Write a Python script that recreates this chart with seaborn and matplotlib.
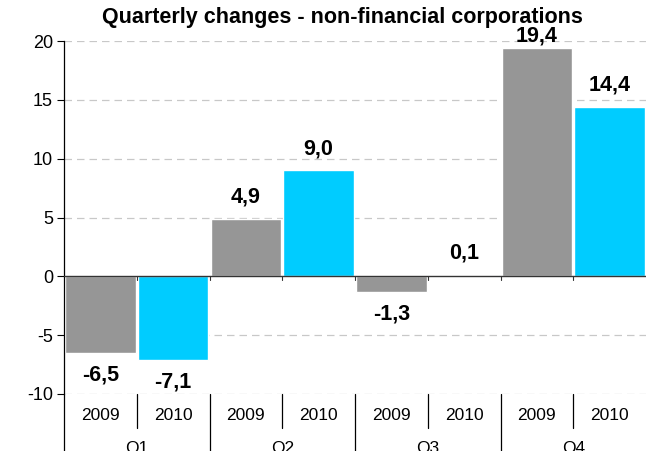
import numpy as np
import pandas as pd
import matplotlib
matplotlib.use("Agg")
import matplotlib.pyplot as plt
import seaborn as sns

quarters = ["Q1", "Q2", "Q3", "Q4"]
years = ["2009", "2010"]
values_2009 = [-6.5, 4.9, -1.3, 19.4]
values_2010 = [-7.1, 9.0, 0.1, 14.4]
y_ticks = [-10, -5, 0, 5, 10, 15, 20]

rows = []
for i, q in enumerate(quarters):
    rows.append({"quarter": q, "year": "2009", "value": values_2009[i]})
    rows.append({"quarter": q, "year": "2010", "value": values_2010[i]})
df = pd.DataFrame(rows)
df["slot"] = df["quarter"] + " " + df["year"]
slot_order = list(df["slot"])

sns.set_style("white")
plt.rcParams["font.family"] = ["Liberation Sans", "DejaVu Sans"]
plt.rcParams["text.color"] = "black"
plt.rcParams["ytick.color"] = "black"

fig = plt.figure(figsize=(6.49, 4.51), dpi=100)
ax = fig.add_axes([64 / 649, 57 / 451, 582 / 649, 353 / 451])

sns.barplot(data=df, x="slot", y="value", hue="year", order=slot_order,
            palette={"2009": "#969696", "2010": "#00CCFF"}, dodge=False,
            width=0.97, saturation=1, legend=False, ax=ax)

ax.set_ylim(-10, 20)
ax.set_xlim(-0.5, 7.5)
ax.set_yticks(y_ticks)
ax.set_yticklabels([str(t) for t in y_ticks])
ax.tick_params(axis="y", left=True, length=5, width=0.8, color="black",
               labelcolor="black", labelsize=13, pad=3)
ax.tick_params(axis="x", bottom=False, labelbottom=False)
ax.set_xlabel("")
ax.set_ylabel("")
for t in y_ticks:
    if t != 0:
        ax.axhline(t, color="#C8C8C8", lw=0.9, ls=(0, (6, 4)), zorder=0)
ax.axhline(0, color="#333333", lw=1.0, zorder=3)
for s in ["top", "right", "bottom"]:
    ax.spines[s].set_visible(False)
ax.spines["left"].set_color("black")
ax.spines["left"].set_linewidth(0.9)

# small ticks on the zero line at slot boundaries
for b in np.arange(0.5, 7.5, 1.0):
    ax.plot([b, b], [0, -0.3], color="#333333", lw=0.8, zorder=3)

# value labels
for i, slot in enumerate(slot_order):
    v = df.loc[i, "value"]
    if v >= 0:
        ly = min(v + 1.85, 20.4)
    else:
        ly = v - 1.9
    ax.text(i, ly, f"{v:.1f}".replace(".", ","), ha="center", va="center",
            fontsize=15.5, fontweight="bold", clip_on=False)

# category table below the plot
ax.plot([-0.5, -0.5], [-10, -16], color="black", lw=0.9, clip_on=False)
for i in range(8):
    ax.text(i, -11.8, years[i % 2], ha="center", va="center", fontsize=12.5,
            clip_on=False)
for b in [0.5, 2.5, 4.5, 6.5]:
    ax.plot([b, b], [-10, -12.85], color="black", lw=0.9, clip_on=False)
for b in [1.5, 3.5, 5.5]:
    ax.plot([b, b], [-10, -16], color="black", lw=0.9, clip_on=False)
for j, q in enumerate(quarters):
    ax.text(2 * j + 0.5, -14.6, q, ha="center", va="center", fontsize=12.5,
            clip_on=False)

fig.text(342 / 649, 1 - 17 / 451, "Quarterly changes - non-financial corporations",
         ha="center", va="center", fontsize=15.5, fontweight="bold")

fig.savefig("out.png", dpi=100)
